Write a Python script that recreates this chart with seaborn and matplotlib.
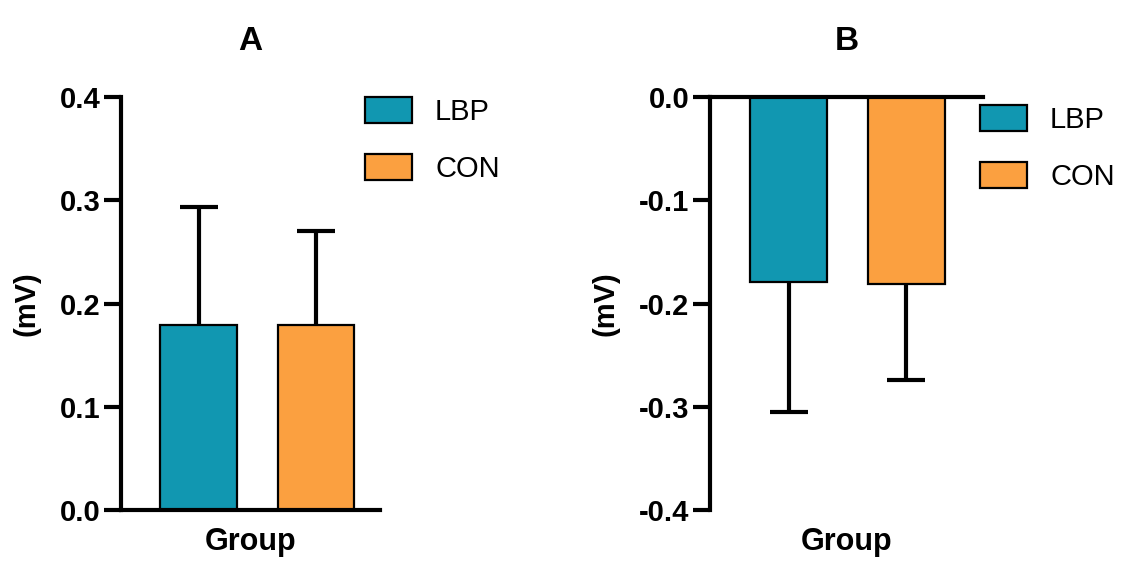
import matplotlib
matplotlib.use("Agg")
import matplotlib.pyplot as plt
import seaborn as sns
from matplotlib.patches import Patch

groups = ["LBP", "CON"]
colors = ["#1197B1", "#FBA040"]

# panel A
a_vals = [0.179, 0.179]
a_err = [0.114, 0.091]
# panel B
b_vals = [-0.179, -0.181]
b_err = [0.126, 0.093]

sns.set_style("ticks")
plt.rcParams['font.family'] = ['Liberation Sans', 'DejaVu Sans']
plt.rcParams.update({"text.color": "black", "axes.labelcolor": "black",
                     "axes.edgecolor": "black", "xtick.color": "black",
                     "ytick.color": "black"})

fig = plt.figure(figsize=(11.24, 5.62), dpi=100)
axA = fig.add_axes([0.1077, 0.0925, 0.2304, 0.7349])
axB = fig.add_axes([0.6317, 0.0925, 0.2429, 0.7349])


def panel(ax, vals, errs, title, down, xlim, yticks, leg_anchor):
    sns.barplot(x=groups, y=vals, hue=groups, palette=colors, ax=ax,
                width=0.655, edgecolor="black", linewidth=1.6,
                saturation=1, legend=False)
    for p in ax.patches:
        p.set_zorder(3)
    if down:
        yerr = [errs, [0, 0]]
    else:
        yerr = [[0, 0], errs]
    eb = ax.errorbar(x=[0, 1], y=vals, yerr=yerr, fmt="none", ecolor="black",
                     elinewidth=3, capsize=14, capthick=3, zorder=1)
    # only keep the cap at the far end of the error bar
    for cap in eb.lines[1]:
        if list(cap.get_ydata()) == list(vals):
            cap.remove()
    ax.set_xlim(*xlim)
    ax.set_ylim(yticks[0], yticks[-1])
    ax.set_yticks(yticks)
    ax.set_yticklabels(["%.1f" % t for t in yticks])
    ax.set_xticks([])
    for s in ax.spines.values():
        s.set_linewidth(3)
        s.set_zorder(4)
    sns.despine(ax=ax, right=True, top=not down, bottom=down)
    ax.tick_params(axis="y", length=12, width=3, pad=3, labelsize=21)
    for lab in ax.get_yticklabels():
        lab.set_fontweight("bold")
    ax.set_ylabel("(mV)", fontsize=21, fontweight="bold", labelpad=14)
    ax.set_xlabel("Group", fontsize=22, fontweight="bold", labelpad=12)
    ax.set_title(title, fontsize=24, fontweight="bold", pad=34)
    handles = [Patch(facecolor=c, edgecolor="black", linewidth=1.6) for c in colors]
    ax.legend(handles, groups, loc="upper left", bbox_to_anchor=leg_anchor,
              frameon=False, fontsize=21, handlelength=1.6, handleheight=1.0,
              handletextpad=0.8, labelspacing=0.95, borderpad=0, borderaxespad=0)


panel(axA, a_vals, a_err, "A", False, (-0.66, 1.545), [0.0, 0.1, 0.2, 0.3, 0.4], (0.942, 1.0))
panel(axB, b_vals, b_err, "B", True, (-0.668, 1.655), [-0.4, -0.3, -0.2, -0.1, 0.0], (0.989, 0.98))

fig.savefig("out.png", dpi=100)
